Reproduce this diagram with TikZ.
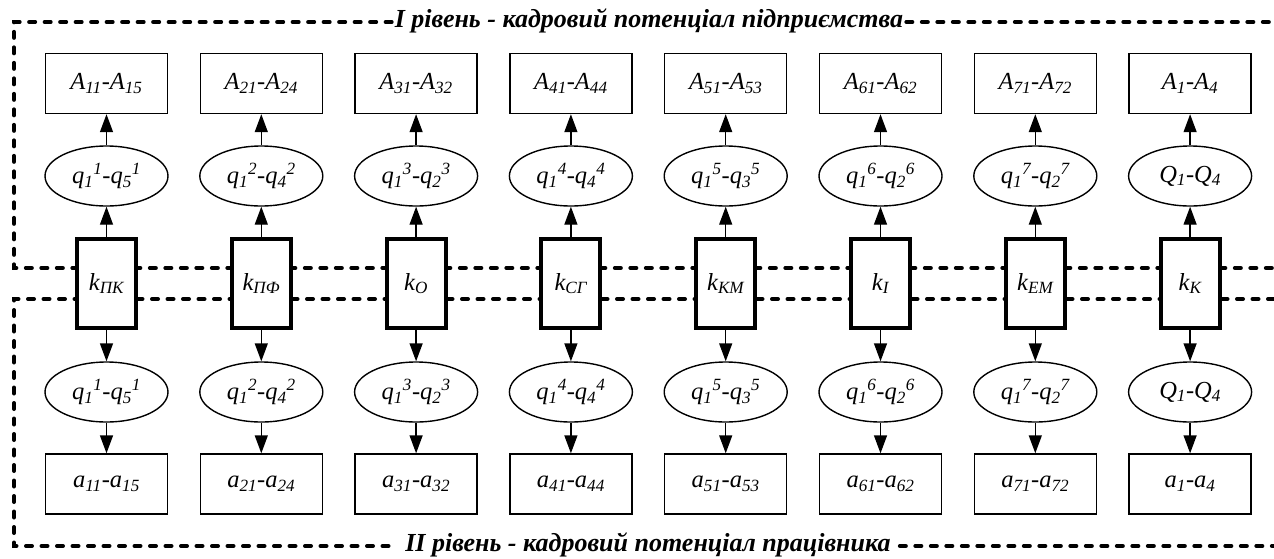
\documentclass[tikz,border=0pt]{standalone}
\usepackage{fontspec}
\setmainfont{Liberation Serif}
\usetikzlibrary{shapes.geometric,arrows.meta}
\begin{document}
\begin{tikzpicture}[x=1pt,y=-1pt,
  lvl/.style={line width=4pt, dash pattern=on 6pt off 9.5pt, line cap=round},
  txt/.style={font=\fontsize{24.5}{28}\selectfont\itshape, inner sep=0pt},
  topbox/.style={txt, draw, line width=1.4pt, minimum width=122pt, minimum height=60pt, fill=white},
  ell/.style={txt, ellipse, draw, line width=1.4pt, minimum width=123pt, minimum height=60pt, fill=white},
  kbox/.style={txt, draw, line width=4pt, minimum width=59pt, minimum height=89pt, fill=white},
  ttl/.style={font=\fontsize{26}{30}\selectfont\bfseries\itshape, inner ysep=0pt},
  arr/.style={line width=1.4pt, -{Triangle[length=18pt,width=13pt]}}
]
\useasboundingbox (0,0) rectangle (1274,558);
% titles
\node[ttl, inner xsep=3pt] (t1) at (649,21) {I рівень - кадровий потенціал підприємства};
\node[ttl, inner xsep=9pt] (t2) at (648,545) {II рівень - кадровий потенціал працівника};
\coordinate (r1) at (1274,22);
\coordinate (r2) at (1274,268);
\coordinate (r3) at (1274,299);
\coordinate (r4) at (1274,546);
\coordinate (c1) at (14,22);
\coordinate (c2) at (14,268);
\coordinate (c3) at (14,299);
\coordinate (c4) at (14,546);
\draw[lvl] (t1.west |- c1) -- (c1) -- (c2) -- (r2);
\draw[lvl] (t1.east |- r1) -- (r1);
\draw[lvl] (r3) -- (c3) -- (c4) -- (t2.west |- c4);
\draw[lvl] (t2.east |- r4) -- (r4);
% columns
\foreach \i/\n/\k in {1/5/ПК,2/4/ПФ,3/2/О,4/4/СГ,5/3/КМ,6/2/І,7/2/ЕМ}{
  \pgfmathsetmacro{\cx}{106.5+154.8*(\i-1)}
  \node[topbox] (T\i) at (\cx,83.5) {A\textsubscript{\i1}-A\textsubscript{\i\n}};
  \node[ell] (E\i) at (\cx,176) {q\textsubscript{1}\textsuperscript{\i}-q\textsubscript{\n}\textsuperscript{\i}};
  \node[kbox] (K\i) at (\cx,283.5) {k\textsubscript{\k}};
  \node[ell] (F\i) at (\cx,392) {q\textsubscript{1}\textsuperscript{\i}-q\textsubscript{\n}\textsuperscript{\i}};
  \node[topbox] (B\i) at (\cx,484) {a\textsubscript{\i1}-a\textsubscript{\i\n}};
}
\pgfmathsetmacro{\cx}{106.5+154.8*7}
\node[topbox] (T8) at (\cx,83.5) {A\textsubscript{1}-A\textsubscript{4}};
\node[ell] (E8) at (\cx,176) {Q\textsubscript{1}-Q\textsubscript{4}};
\node[kbox] (K8) at (\cx,283.5) {k\textsubscript{К}};
\node[ell] (F8) at (\cx,392) {Q\textsubscript{1}-Q\textsubscript{4}};
\node[topbox] (B8) at (\cx,484) {a\textsubscript{1}-a\textsubscript{4}};
\foreach \i in {1,...,8}{
  \draw[arr] (E\i) -- (T\i);
  \draw[arr] (K\i) -- (E\i);
  \draw[arr] (K\i) -- (F\i);
  \draw[arr] (F\i) -- (B\i);
}
\end{tikzpicture}
\end{document}
